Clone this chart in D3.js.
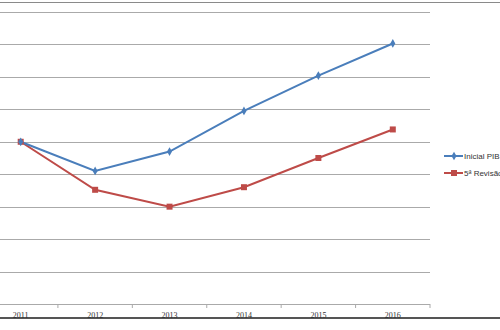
<!DOCTYPE html>
<html><head><meta charset="utf-8">
<script src="https://cdn.jsdelivr.net/npm/d3@7"></script>
<style>html,body{margin:0;padding:0;background:#fff;overflow:hidden}</style>
</head><body>
<svg id="c" width="500" height="330"></svg>
<script>
const years = ["2011","2012","2013","2014","2015","2016"];
const inicialPIB = [5.0, 4.1, 4.7, 5.95, 7.04, 8.03];
const revisao5 = [5.0, 3.52, 3.0, 3.6, 4.5, 5.38];
const yTicks = [0,1,2,3,4,5,6,7,8,9];
const seriesNames = ["Inicial PIB", "5ª Revisão"];

const svg = d3.select("#c");
const plot = {left:-16.5, right:430, top:12, bottom:304};
const x = d3.scaleBand().domain(years).range([plot.left, plot.right]);
const y = d3.scaleLinear().domain([0,9]).range([plot.bottom, plot.top]);

// outer borders
svg.append("line").attr("x1",0).attr("x2",500).attr("y1",2.5).attr("y2",2.5).attr("stroke","#8a8a8a").attr("stroke-width",1.2);
svg.append("line").attr("x1",0).attr("x2",500).attr("y1",318).attr("y2",318).attr("stroke","#555").attr("stroke-width",2);

// gridlines
svg.append("g").selectAll("line").data(yTicks.filter(d=>d>0)).join("line")
  .attr("x1",0).attr("x2",plot.right).attr("y1",d=>Math.round(y(d))+0.5).attr("y2",d=>Math.round(y(d))+0.5)
  .attr("stroke","#aaaaaa").attr("stroke-width",1);

// x axis
const xa = svg.append("g").attr("transform",`translate(0,${plot.bottom+0.5})`)
  .call(d3.axisBottom(x).tickSize(0).tickPadding(8));
xa.select(".domain").attr("stroke","#aaaaaa").attr("d",`M0,0H${plot.right}`);
xa.selectAll("text").attr("font-family","Liberation Serif, serif").attr("font-size","8px").attr("fill","#333");
// tick marks at band boundaries
svg.append("g").selectAll("line").data(years).join("line")
  .attr("x1",d=>x(d)+x.bandwidth()).attr("x2",d=>x(d)+x.bandwidth())
  .attr("y1",plot.bottom).attr("y2",plot.bottom+4).attr("stroke","#aaaaaa");

const line = d3.line().x((d,i)=>x(years[i])+x.bandwidth()/2).y(d=>y(d));
const colors = ["#4a7ebb","#be4b48"];

svg.append("path").datum(revisao5).attr("d",line).attr("fill","none").attr("stroke",colors[1]).attr("stroke-width",2);
svg.append("path").datum(inicialPIB).attr("d",line).attr("fill","none").attr("stroke",colors[0]).attr("stroke-width",2);

svg.append("g").selectAll("rect").data(revisao5).join("rect")
  .attr("x",(d,i)=>x(years[i])+x.bandwidth()/2-3).attr("y",d=>y(d)-3).attr("width",6).attr("height",6).attr("fill",colors[1]);
const diamond = d3.symbol().type(d3.symbolDiamond).size(22);
svg.append("g").selectAll("path").data(inicialPIB).join("path")
  .attr("d",diamond).attr("transform",(d,i)=>`translate(${x(years[i])+x.bandwidth()/2},${y(d)})`).attr("fill",colors[0]);

// legend
const leg = svg.append("g");
[0,1].forEach(k=>{
  const ly = k===0 ? 156 : 173;
  leg.append("line").attr("x1",444).attr("x2",463).attr("y1",ly).attr("y2",ly).attr("stroke",colors[k]).attr("stroke-width",2);
  if(k===0) leg.append("path").attr("d",diamond).attr("transform",`translate(454,${ly})`).attr("fill",colors[0]);
  else leg.append("rect").attr("x",451).attr("y",ly-3).attr("width",6).attr("height",6).attr("fill",colors[1]);
  leg.append("text").attr("x",464).attr("y",ly+2.5).text(seriesNames[k])
    .attr("font-family","Liberation Sans, Arial, sans-serif").attr("font-size","8px").attr("fill","#333");
});
</script>
</body></html>
